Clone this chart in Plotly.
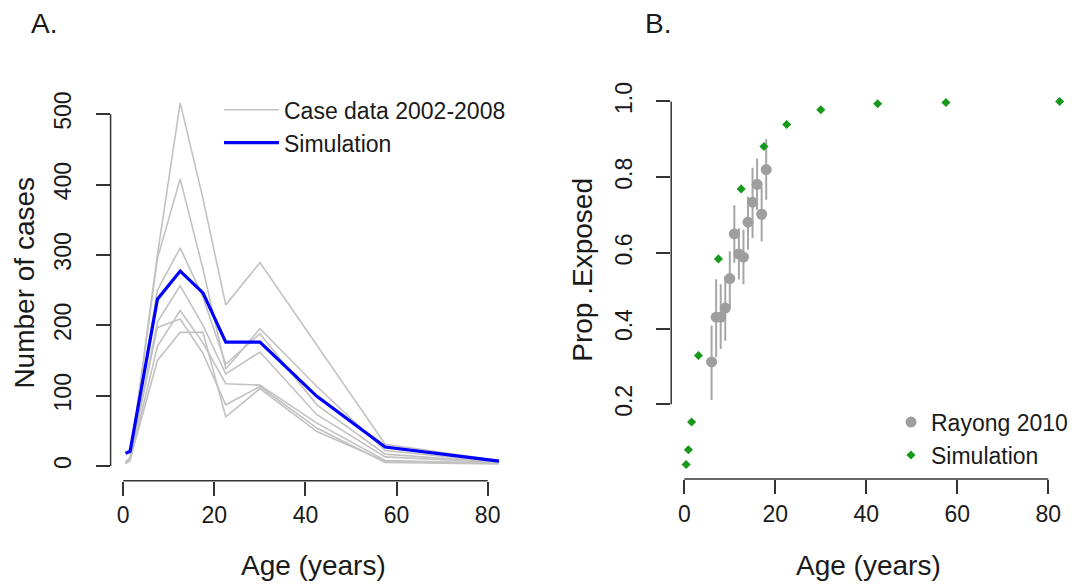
import plotly.graph_objects as go

# ---------------- Panel A data ----------------
ages_a = [0.5, 1.5, 7.5, 12.5, 17.5, 22.5, 30, 42.5, 57.5, 82.5]
case_1 = [5, 10, 300, 516, 380, 229, 289, 172, 31, 8]
case_2 = [4, 8, 295, 408, 280, 138, 195, 113, 22, 6]
case_3 = [6, 12, 250, 310, 240, 145, 188, 87, 17, 5]
case_4 = [5, 10, 205, 256, 200, 131, 162, 73, 13, 5]
case_5 = [3, 8, 170, 221, 175, 117, 115, 61, 8, 4]
case_6 = [5, 10, 197, 209, 160, 87, 113, 54, 5, 3]
case_7 = [4, 9, 150, 190, 190, 70, 110, 49, 7, 4]
sim_cases = [18, 21, 237, 277, 246, 176, 176, 99, 27, 7]

# ---------------- Panel B data ----------------
sim_ages_b = [0.4, 0.9, 1.6, 3.1, 7.5, 12.5, 17.5, 22.5, 30, 42.5, 57.5, 82.5]
sim_prop = [0.041, 0.080, 0.153, 0.329, 0.584, 0.769, 0.881, 0.939, 0.978, 0.994, 0.997, 1.0]
rayong_ages = [6, 7, 8, 9, 10, 11, 12, 13, 14, 15, 16, 17, 18]
rayong_prop = [0.312, 0.430, 0.430, 0.454, 0.532, 0.650, 0.597, 0.589, 0.681, 0.734, 0.781, 0.702, 0.820]
rayong_hi = [0.408, 0.530, 0.517, 0.539, 0.604, 0.726, 0.665, 0.661, 0.748, 0.825, 0.849, 0.775, 0.901]
rayong_lo = [0.211, 0.325, 0.346, 0.368, 0.451, 0.574, 0.530, 0.517, 0.608, 0.639, 0.713, 0.630, 0.740]

x_ticks = [0, 20, 40, 60, 80]
ya_ticks = [0, 100, 200, 300, 400, 500]
yb_ticks = [0.2, 0.4, 0.6, 0.8, 1.0]
yb_ticktext = ["0.2", "0.4", "0.6", "0.8", "1.0"]

W, H = 1077, 585
TXT = "#1a1a1a"
AX = "#333333"
GRAY = "#c2c2c2"
GREEN = "#179a1c"
TICKFONT = dict(family="Liberation Sans Narrow, Arial Narrow, Liberation Sans", size=23, color=TXT)
LABFONT = dict(family="Liberation Sans, Arial", size=28, color=TXT)
LEGFONT = dict(family="Liberation Sans, Arial", size=23, color=TXT)

def px_x(p):
    return p / W

def px_y(p):
    return (H - p) / H

fig = go.Figure()

cases = [case_1, case_2, case_3, case_4, case_5, case_6, case_7]
for i, c in enumerate(cases):
    fig.add_trace(go.Scatter(
        x=ages_a, y=c, mode="lines", xaxis="x", yaxis="y",
        line=dict(color=GRAY, width=1.6),
        name="Case data 2002-2008", legendgroup="cases",
        showlegend=(i == 0), legend="legend", hoverinfo="skip"))

fig.add_trace(go.Scatter(
    x=ages_a, y=sim_cases, mode="lines", xaxis="x", yaxis="y",
    line=dict(color="#0000ff", width=3.2),
    name="Simulation", legend="legend"))

err_plus = [h - v for h, v in zip(rayong_hi, rayong_prop)]
err_minus = [v - l for v, l in zip(rayong_prop, rayong_lo)]
fig.add_trace(go.Scatter(
    x=rayong_ages, y=rayong_prop, mode="markers", xaxis="x2", yaxis="y2",
    marker=dict(color="#9e9e9e", size=11, line=dict(width=0)),
    error_y=dict(type="data", symmetric=False, array=err_plus, arrayminus=err_minus,
                 color="#a6a6a6", thickness=2, width=0),
    name="Rayong 2010", legend="legend2"))

fig.add_trace(go.Scatter(
    x=sim_ages_b, y=sim_prop, mode="markers", xaxis="x2", yaxis="y2",
    marker=dict(color=GREEN, size=7, symbol="diamond", line=dict(width=0)),
    name="Simulation", legend="legend2"))

# domains in pixel terms
ax_dom_x = [px_x(110.6), px_x(514.0)]
ax_dom_y = [px_y(479.8), px_y(81.1)]
bx_dom_x = [px_x(671.2), px_x(1074.6)]
bx_dom_y = [px_y(478.1), px_y(82.6)]

common = dict(showgrid=False, zeroline=False, showline=False, ticks="outside",
              ticklen=14, tickwidth=1.5, tickcolor=AX, tickfont=TICKFONT)

fig.update_layout(
    width=W, height=H, autosize=False,
    margin=dict(l=0, r=0, t=0, b=0),
    paper_bgcolor="white", plot_bgcolor="white",
    xaxis=dict(domain=ax_dom_x, range=[-2.78, 85.78], anchor="y",
               tickvals=x_ticks, ticklabelstandoff=0, **common),
    yaxis=dict(domain=ax_dom_y, range=[-20.8, 540.8], anchor="x",
               tickvals=ya_ticks, tickangle=-90, ticklabelstandoff=15, **common),
    xaxis2=dict(domain=bx_dom_x, range=[-2.88, 85.78], anchor="y2",
                tickvals=x_ticks, ticklabelstandoff=0, **common),
    yaxis2=dict(domain=bx_dom_y, range=[0.0026, 1.0384], anchor="x2",
                tickvals=yb_ticks, ticktext=yb_ticktext, tickangle=-90,
                ticklabelstandoff=15, **common),
    legend=dict(x=px_x(219), y=px_y(84), xanchor="left", yanchor="top",
                font=LEGFONT, bgcolor="rgba(0,0,0,0)", borderwidth=0,
                itemwidth=55, tracegroupgap=0),
    legend2=dict(x=px_x(891), y=px_y(399), xanchor="left", yanchor="top",
                 font=LEGFONT, bgcolor="rgba(0,0,0,0)", borderwidth=0,
                 tracegroupgap=0),
)

# R-style axis lines spanning first to last tick
shapes = [
    dict(type="line", xref="x", yref="paper", x0=x_ticks[0], x1=x_ticks[-1],
         y0=ax_dom_y[0], y1=ax_dom_y[0], line=dict(color=AX, width=1.5)),
    dict(type="line", xref="paper", yref="y", x0=ax_dom_x[0], x1=ax_dom_x[0],
         y0=ya_ticks[0], y1=ya_ticks[-1], line=dict(color=AX, width=1.5)),
    dict(type="line", xref="x2", yref="paper", x0=x_ticks[0], x1=x_ticks[-1],
         y0=bx_dom_y[0], y1=bx_dom_y[0], line=dict(color=AX, width=1.5)),
    dict(type="line", xref="paper", yref="y2", x0=bx_dom_x[0], x1=bx_dom_x[0],
         y0=yb_ticks[0], y1=yb_ticks[-1], line=dict(color=AX, width=1.5)),
]
fig.update_layout(shapes=shapes)

annotations = [
    dict(text="A.", x=px_x(44), y=px_y(19), font=dict(family="Liberation Sans Narrow, Liberation Sans", size=28, color=TXT)),
    dict(text="B.", x=px_x(658), y=px_y(19), font=dict(family="Liberation Sans Narrow, Liberation Sans", size=28, color=TXT)),
    dict(text="Age (years)", x=px_x(313), y=px_y(565), font=LABFONT),
    dict(text="Age (years)", x=px_x(868), y=px_y(565), font=LABFONT),
    dict(text="Number of cases", x=px_x(25), y=px_y(280), textangle=-90, font=LABFONT),
    dict(text="Prop .Exposed", x=px_x(583), y=px_y(267), textangle=-90, font=LABFONT),
]
for a in annotations:
    a.update(xref="paper", yref="paper", showarrow=False, xanchor="center", yanchor="middle")
fig.update_layout(annotations=annotations)

fig.write_html("out.html", config={"displayModeBar": False},
               post_script="document.body.style.margin='0px';document.body.style.overflow='hidden';")
